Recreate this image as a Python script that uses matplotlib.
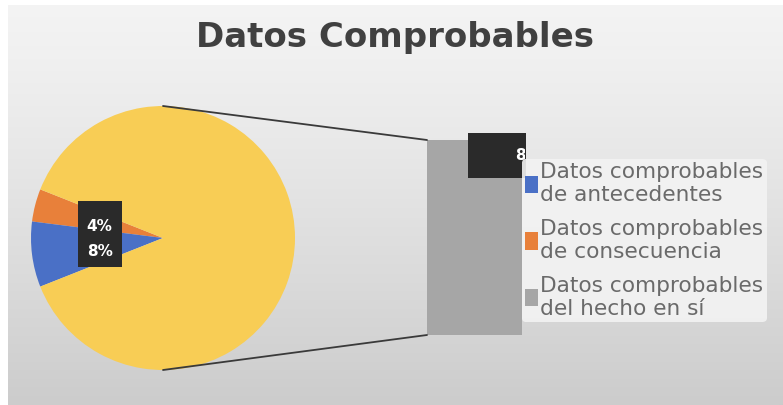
import numpy as np
import matplotlib.pyplot as plt
from matplotlib.patches import Patch, ConnectionPatch
from matplotlib.transforms import Bbox

# datos del grafico (porcentajes)
categorias = ["Datos comprobables\nde antecedentes",
              "Datos comprobables\nde consecuencia",
              "Datos comprobables\ndel hecho en sí"]
valores = [8, 4, 88]
colores = ["#4a70c6", "#e8803a", "#a6a6a6"]
color_otros = "#f8cd55"
titulo = "Datos Comprobables"

W, H = 783, 405
fig = plt.figure(figsize=(W / 100, H / 100), dpi=100)
fig.patch.set_facecolor("white")

# fondo con degradado
bg = fig.add_axes([8 / W, 0, 1 - 8 / W, 1 - 5 / H])
grad = np.linspace(0, 1, 256).reshape(-1, 1) ** 1.2
top, bot = np.array([0.955, 0.955, 0.955]), np.array([0.80, 0.80, 0.80])
img = top + (bot - top) * grad[..., None]
bg.imshow(img, aspect="auto", extent=[0, 1, 1, 0])
bg.set_axis_off()

# pastel principal
ax = fig.add_axes([31 / W, (H - 370) / H, 264 / W, 264 / H])
pequenos = valores[:2]
otros = sum(valores[2:])
# orden: naranja, azul, resto (sentido antihorario)
datos_pie = [pequenos[1], pequenos[0], otros]
cols_pie = [colores[1], colores[0], color_otros]
inicio = 180 - 0.5 * sum(pequenos) / 100 * 360
ax.pie(datos_pie, colors=cols_pie, startangle=inicio, counterclock=True,
       radius=1, wedgeprops=dict(linewidth=0))
ax.set_xlim(-1, 1)
ax.set_ylim(-1, 1)
ax.set_aspect("equal")

# etiquetas de los sectores pequenos (caja oscura comun)
ax.add_patch(plt.Rectangle((-0.645, -0.22), 0.335, 0.5, fc="#2a2a2a",
                           ec="none", zorder=3))
for txt, y in [(f"{pequenos[1]}%", 0.085), (f"{pequenos[0]}%", -0.10)]:
    ax.text(-0.48, y, txt, ha="center", va="center", color="white",
            fontsize=11, fontweight="bold", zorder=4)

# barra secundaria
axb = fig.add_axes([427 / W, (H - 335) / H, 95 / W, 195 / H])
axb.bar([0], [valores[2]], width=1, color=colores[2])
axb.set_xlim(-0.5, 0.5)
axb.set_ylim(0, valores[2])
axb.set_axis_off()

# lineas de union
for yp, yb in [(1, valores[2]), (-1, 0)]:
    con = ConnectionPatch(xyA=(0, yp), coordsA=ax.transData,
                          xyB=(-0.5, yb), coordsB=axb.transData,
                          color="#3a3a3a", lw=1.3)
    fig.add_artist(con)

# etiqueta de la barra (tapada en parte por la leyenda)
fig.patches.append(plt.Rectangle((468 / W, 1 - 178 / H), 58 / W, 45 / H,
                                 transform=fig.transFigure, fc="#2a2a2a",
                                 ec="none", zorder=3))
t88 = fig.text(515 / W, 1 - 156 / H, f"{valores[2]}%", ha="left", va="center",
               color="white", fontsize=11, fontweight="bold", zorder=4)
t88.set_clip_box(Bbox.from_extents(0, 0, 525, H))
t88.set_clip_on(True)

# leyenda
handles = [Patch(facecolor=c, edgecolor="none") for c in colores]
leg = fig.legend(handles, categorias, loc="upper left",
                 bbox_to_anchor=(522 / W, 1 - 159 / H), frameon=True,
                 fontsize=15.6, handlelength=0.6, handleheight=0.85,
                 handletextpad=0.1, labelspacing=0.62, borderpad=0.15,
                 borderaxespad=0)
leg.get_frame().set_facecolor("#f3f3f3")
leg.get_frame().set_edgecolor("none")
leg.get_frame().set_alpha(0.9)
leg.set_zorder(5)
for t in leg.get_texts():
    t.set_color("#6a6a6a")
    t.set_linespacing(1.2)

# titulo
fig.text(395 / W, 1 - 38 / H, titulo, ha="center", va="center",
         fontsize=24.5, fontweight="bold", color="#404040")

fig.savefig("out.png", dpi=100)
